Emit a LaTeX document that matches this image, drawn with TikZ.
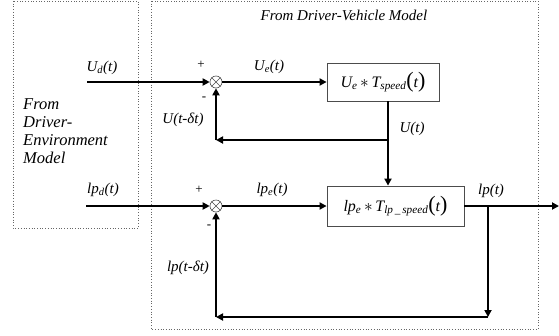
\documentclass[tikz,border=0pt]{standalone}
\usepackage{fontspec}
\setmainfont{Liberation Serif}
\usetikzlibrary{arrows.meta}
\newcommand{\BParL}{{\fontsize{22}{22}\selectfont\upshape (}}
\newcommand{\BParR}{{\fontsize{22}{22}\selectfont\upshape )}}
\begin{document}
\begin{tikzpicture}[x=1pt,y=-1pt,
  lbl/.style={font=\fontsize{15}{17.5}\selectfont\itshape, inner sep=0pt},
  sgn/.style={font=\fontsize{13}{15}\selectfont, inner sep=0pt},
  blk/.style={draw=black!70, line width=0.8pt, inner sep=0pt, font=\fontsize{16}{18}\selectfont},
  sumnode/.style={circle, draw=black!70, line width=0.6pt, minimum size=12pt, inner sep=0pt},
  wire/.style={line width=2.6pt},
  arr/.style={wire, -{Triangle[length=7pt,width=7pt]}},
  frame/.style={draw=black!60, dotted, line width=0.7pt}
]
\useasboundingbox (0,0) rectangle (559,335);
\fill[white] (0,0) rectangle (559,335);

% dotted frames
\draw[frame] (13,1) rectangle (138,228);
\draw[frame] (151,1) rectangle (538,329);

% titles
\node[lbl] (title) at (344,15) {From Driver-Vehicle Model};
\node[inner sep=0pt, align=left, anchor=north west, font=\fontsize{16.5}{18}\selectfont\itshape] (envtxt) at (23,98) {From\\Driver-\\Environment\\Model};

% blocks
\node[sumnode] (s1) at (216,82) {};
\draw[line width=0.6pt, black!70] (s1.north west) -- (s1.south east) (s1.north east) -- (s1.south west);
\node[sumnode] (s2) at (216,206) {};
\draw[line width=0.6pt, black!70] (s2.north west) -- (s2.south east) (s2.north east) -- (s2.south west);

\node[blk, minimum width=112pt, minimum height=38pt] (b1) at (383,82)
  {{\itshape U}\textsubscript{\itshape e}\,$*$\,{\itshape T}\textsubscript{\itshape speed}\BParL{\itshape t}\BParR};
\node[blk, minimum width=137pt, minimum height=40pt] (b2) at (395.5,206)
  {{\itshape lp}\textsubscript{\itshape e}\,$*$\,{\itshape T}\textsubscript{\itshape lp\,\_\,speed}\BParL{\itshape t}\BParR};

% coordinates
\coordinate (in1) at (87,82);
\coordinate (in2) at (86,206);
\coordinate (ut) at (388,140);
\coordinate (fb1) at (216,140);
\coordinate (out) at (559,206);
\coordinate (br) at (488,206);
\coordinate (bb) at (488,317);
\coordinate (fb2) at (216,317);

% wires
\draw[arr] (in1) -- (s1);
\draw[arr] (s1) -- (b1);
\draw[wire] (b1.south -| ut) -- (ut);
\draw[arr] (ut) -- (b2.north -| ut);
\draw[arr] (ut) -- (fb1);
\draw[arr] (fb1) -- (s1);

\draw[arr] (in2) -- (s2);
\draw[arr] (s2) -- (b2);
\draw[arr] (b2) -- (out);
\draw[arr] (br) -- (bb);
\draw[arr] (bb) -- (fb2);
\draw[arr] (fb2) -- (s2);

% labels
\node[lbl] (lud) at (102,68) {U\textsubscript{d}(t)};
\node[sgn] (p1) at (201,65) {+};
\node[sgn] (m1) at (204,99) {-};
\node[lbl] (lue) at (269,67) {U\textsubscript{e}(t)};
\node[lbl] (lufb) at (183,120) {U(t-δt)};
\node[lbl] (lu) at (412,129) {U(t)};

\node[lbl] (llpd) at (103,190) {lp\textsubscript{d}(t)};
\node[sgn] (p2) at (199,190) {+};
\node[sgn] (m2) at (209,227) {-};
\node[lbl] (llpe) at (272,190) {lp\textsubscript{e}(t)};
\node[lbl] (llp) at (491,191) {lp(t)};
\node[lbl] (llpfb) at (188,268) {lp(t-δt)};
\end{tikzpicture}
\end{document}
